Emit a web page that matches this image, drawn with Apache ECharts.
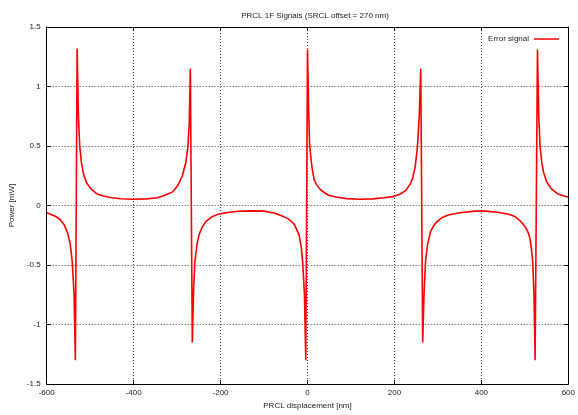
<!DOCTYPE html>
<html>
<head>
<meta charset="utf-8">
<script src="https://cdn.jsdelivr.net/npm/echarts@6/dist/echarts.min.js"></script>
<style>
  html, body { margin: 0; padding: 0; background: #fff; }
  #chart { width: 578px; height: 415px; }
</style>
</head>
<body>
<div id="chart"></div>
<script>
// PRCL displacement [nm]
var displacement = [
  -600, -590, -580, -570, -560, -552, -546, -541, -537, -534,
  -530, -527, -524, -520, -515, -508, -498, -485, -470, -450,
  -430, -400, -370, -345, -325, -310, -298, -288, -280, -275,
  -272, -269.5, -265, -262, -259, -254, -249, -242, -234, -220,
  -204, -180, -158, -130, -100, -75, -60, -45, -38, -30,
  -19, -14, -11, -7, -4, 0, 3, 5, 10, 15,
  20, 28, 38, 50, 68, 90, 120, 150, 175, 196,
  212, 226, 236, 242, 248, 253, 257, 260.5, 265, 268,
  271.5, 276, 283, 290, 298, 310, 324, 350, 385, 410,
  441, 465, 478, 490, 501, 508, 512, 515, 518, 521,
  523.6, 529, 532, 535, 539, 543, 550, 561, 575, 590,
  600
];
// Error signal power [mW]
var errorSignal = [
  -0.06, -0.075, -0.09, -0.115, -0.16, -0.23, -0.32, -0.48, -0.75, -1.30,
  1.32, 0.75, 0.50, 0.36, 0.26, 0.19, 0.14, 0.10, 0.08, 0.065,
  0.057, 0.053, 0.056, 0.065, 0.09, 0.115, 0.17, 0.25, 0.36, 0.5,
  0.7, 1.15, -1.15, -0.7, -0.47, -0.32, -0.24, -0.18, -0.135, -0.095,
  -0.072, -0.056, -0.048, -0.045, -0.047, -0.065, -0.085, -0.11, -0.13, -0.16,
  -0.25, -0.36, -0.48, -0.75, -1.30, 1.31, 0.75, 0.5, 0.33, 0.22,
  0.18, 0.14, 0.11, 0.085, 0.07, 0.058, 0.053, 0.056, 0.065, 0.075,
  0.095, 0.125, 0.18, 0.23, 0.33, 0.5, 0.75, 1.15, -1.15, -0.75,
  -0.47, -0.33, -0.22, -0.17, -0.135, -0.1, -0.08, -0.06, -0.047, -0.047,
  -0.058, -0.075, -0.095, -0.13, -0.18, -0.23, -0.28, -0.36, -0.47, -0.75,
  -1.30, 1.31, 0.75, 0.5, 0.36, 0.28, 0.2, 0.14, 0.1, 0.08,
  0.072
];

var font = 'Liberation Sans, Arial, sans-serif';
var gridLine = { show: true, lineStyle: { color: '#444', width: 1, type: [1, 2] } };
var frame = { show: true, onZero: false, lineStyle: { color: '#000', width: 1 } };
var tick = { show: true, inside: true, length: 4, lineStyle: { color: '#000' } };

var chart = echarts.init(document.getElementById('chart'));
chart.setOption({
  animation: false,
  backgroundColor: '#fff',
  title: {
    text: 'PRCL 1F Signals (SRCL offset = 270 nm)',
    left: 310,
    top: 7,
    textAlign: 'center',
    textStyle: { fontFamily: font, fontSize: 8, fontWeight: 'normal', color: '#222' }
  },
  legend: {
    right: 14,
    top: 30,
    align: 'right',
    icon: 'rect',
    itemWidth: 25,
    itemHeight: 1.5,
    itemGap: 6,
    textStyle: { fontFamily: font, fontSize: 8, color: '#222' },
    data: ['Error signal']
  },
  grid: { left: 45, right: 3, top: 27, bottom: 28 },
  xAxis: [
    {
      type: 'value', min: -600, max: 600, interval: 200,
      name: 'PRCL displacement [nm]', nameLocation: 'middle', nameGap: 16,
      nameTextStyle: { fontFamily: font, fontSize: 8, color: '#222' },
      axisLine: frame, axisTick: tick, splitLine: gridLine,
      axisLabel: { fontFamily: font, fontSize: 8, color: '#222', margin: 5 }
    },
    {
      type: 'value', min: -600, max: 600, interval: 200, position: 'top',
      axisLine: frame, axisTick: tick, splitLine: { show: false },
      axisLabel: { show: false }
    }
  ],
  yAxis: [
    {
      type: 'value', min: -1.5, max: 1.5, interval: 0.5,
      name: 'Power [mW]', nameLocation: 'middle', nameGap: 30,
      nameTextStyle: { fontFamily: font, fontSize: 8, color: '#222' },
      axisLine: frame, axisTick: tick, splitLine: gridLine,
      axisLabel: { fontFamily: font, fontSize: 8, color: '#222', margin: 6 }
    },
    {
      type: 'value', min: -1.5, max: 1.5, interval: 0.5, position: 'right',
      axisLine: frame, axisTick: tick, splitLine: { show: false },
      axisLabel: { show: false }
    }
  ],
  series: [
    {
      name: 'Error signal',
      type: 'line',
      xAxisIndex: 0,
      yAxisIndex: 0,
      showSymbol: false,
      color: '#ff0000',
      lineStyle: { width: 1.6, color: '#ff0000' },
      data: displacement.map(function (x, i) { return [x, errorSignal[i]]; })
    }
  ]
});
</script>
</body>
</html>
